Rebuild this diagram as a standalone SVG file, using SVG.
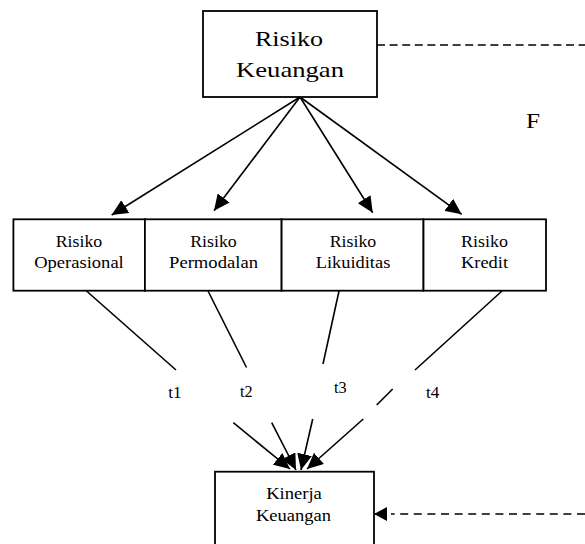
<svg xmlns="http://www.w3.org/2000/svg" width="585" height="544" viewBox="0 0 585 544">
  <style>
    .box { fill: #ffffff; stroke: #000000; stroke-width: 1.8; }
    .lbl { font-family: 'Liberation Serif', 'Times New Roman', Times, serif; font-weight: normal; fill: #000000; text-anchor: middle; }
    .big { font-size: 22px; }
    .sm { font-size: 16.5px; }
    .conn { fill: none; stroke: #000000; stroke-width: 1.6; }
    .dash { stroke-dasharray: 8 4.6; }
  </style>
  <defs>
    <marker id="ah" markerUnits="userSpaceOnUse" viewBox="0 0 16 15" refX="16" refY="7.5" markerWidth="16" markerHeight="15" orient="auto">
      <path d="M0,0 L16,7.5 L0,15 Z" fill="#000000" stroke="none"/>
    </marker>
    <marker id="ah2" markerUnits="userSpaceOnUse" viewBox="0 0 13 14" refX="13" refY="7" markerWidth="13" markerHeight="14" orient="auto">
      <path d="M0,0 L13,7 L0,14 Z" fill="#000000" stroke="none"/>
    </marker>
  </defs>
  <rect width="585" height="544" fill="#ffffff"/>

  <g id="connectors">
    <line class="conn" x1="300" y1="97" x2="111.7" y2="215" marker-end="url(#ah)"/>
    <line class="conn" x1="300" y1="97" x2="214" y2="210.7" marker-end="url(#ah)"/>
    <line class="conn" x1="300" y1="97" x2="372.7" y2="212.7" marker-end="url(#ah)"/>
    <line class="conn" x1="300" y1="97" x2="461.7" y2="214.3" marker-end="url(#ah)"/>

    <line class="conn" x1="86.5" y1="291" x2="176" y2="370"/>
    <line class="conn" x1="208" y1="291" x2="246.5" y2="367.5"/>
    <line class="conn" x1="339" y1="291" x2="323" y2="364"/>
    <line class="conn" x1="502" y1="291" x2="415" y2="370"/>
    <line class="conn" x1="392.7" y1="389" x2="376.7" y2="405"/>

    <line class="conn" x1="233.3" y1="422.7" x2="290" y2="469" marker-end="url(#ah)"/>
    <line class="conn" x1="271.7" y1="422.7" x2="296" y2="470" marker-end="url(#ah)"/>
    <line class="conn" x1="312.7" y1="419" x2="301" y2="470" marker-end="url(#ah)"/>
    <line class="conn" x1="363.3" y1="419" x2="307" y2="469" marker-end="url(#ah)"/>

    <line class="conn dash" x1="377" y1="45" x2="585" y2="45"/>
    <line class="conn" x1="387" y1="514" x2="374" y2="514" marker-end="url(#ah2)"/>
    <line class="conn dash" x1="585" y1="514" x2="391" y2="514" style="stroke-dasharray: 8 5.6;"/>
  </g>

  <g id="risiko-keuangan">
    <rect class="box" x="203" y="11" width="174" height="86"/>
    <text class="lbl big" x="289" y="46" textLength="68" lengthAdjust="spacingAndGlyphs">Risiko</text>
    <text class="lbl big" x="290" y="77" textLength="108" lengthAdjust="spacingAndGlyphs">Keuangan</text>
  </g>

  <g id="label-f">
    <text class="lbl big" x="533" y="128" textLength="14" lengthAdjust="spacingAndGlyphs">F</text>
  </g>

  <g id="risiko-operasional">
    <rect class="box" x="13.4" y="219.3" width="131.5" height="71.4"/>
    <text class="lbl sm" x="79" y="246.7" textLength="46.5" lengthAdjust="spacingAndGlyphs">Risiko</text>
    <text class="lbl sm" x="79" y="267.7" textLength="89.6" lengthAdjust="spacingAndGlyphs">Operasional</text>
  </g>

  <g id="risiko-permodalan">
    <rect class="box" x="144.9" y="219.3" width="136.7" height="71.4"/>
    <text class="lbl sm" x="213.5" y="246.7" textLength="46.5" lengthAdjust="spacingAndGlyphs">Risiko</text>
    <text class="lbl sm" x="213.5" y="267.7" textLength="88.9" lengthAdjust="spacingAndGlyphs">Permodalan</text>
  </g>

  <g id="risiko-likuiditas">
    <rect class="box" x="281.6" y="219.3" width="141.9" height="71.4"/>
    <text class="lbl sm" x="353" y="246.7" textLength="46.5" lengthAdjust="spacingAndGlyphs">Risiko</text>
    <text class="lbl sm" x="353" y="267.7" textLength="74.7" lengthAdjust="spacingAndGlyphs">Likuiditas</text>
  </g>

  <g id="risiko-kredit">
    <rect class="box" x="423.5" y="219.3" width="122.5" height="71.4"/>
    <text class="lbl sm" x="484.5" y="246.7" textLength="47" lengthAdjust="spacingAndGlyphs">Risiko</text>
    <text class="lbl sm" x="484.5" y="267.7" textLength="47" lengthAdjust="spacingAndGlyphs">Kredit</text>
  </g>

  <g id="labels-t">
    <text class="lbl sm" x="175" y="398.3" textLength="13.4" lengthAdjust="spacingAndGlyphs">t1</text>
    <text class="lbl sm" x="246.3" y="396.7" textLength="12.7" lengthAdjust="spacingAndGlyphs">t2</text>
    <text class="lbl sm" x="340.3" y="392.7" textLength="12.7" lengthAdjust="spacingAndGlyphs">t3</text>
    <text class="lbl sm" x="432.6" y="398.3" textLength="13.3" lengthAdjust="spacingAndGlyphs">t4</text>
  </g>

  <g id="kinerja-keuangan">
    <rect class="box" x="215" y="471.7" width="159" height="100"/>
    <text class="lbl sm" x="294" y="499.3" textLength="55.7" lengthAdjust="spacingAndGlyphs">Kinerja</text>
    <text class="lbl sm" x="293.5" y="520.7" textLength="75" lengthAdjust="spacingAndGlyphs">Keuangan</text>
  </g>
</svg>
